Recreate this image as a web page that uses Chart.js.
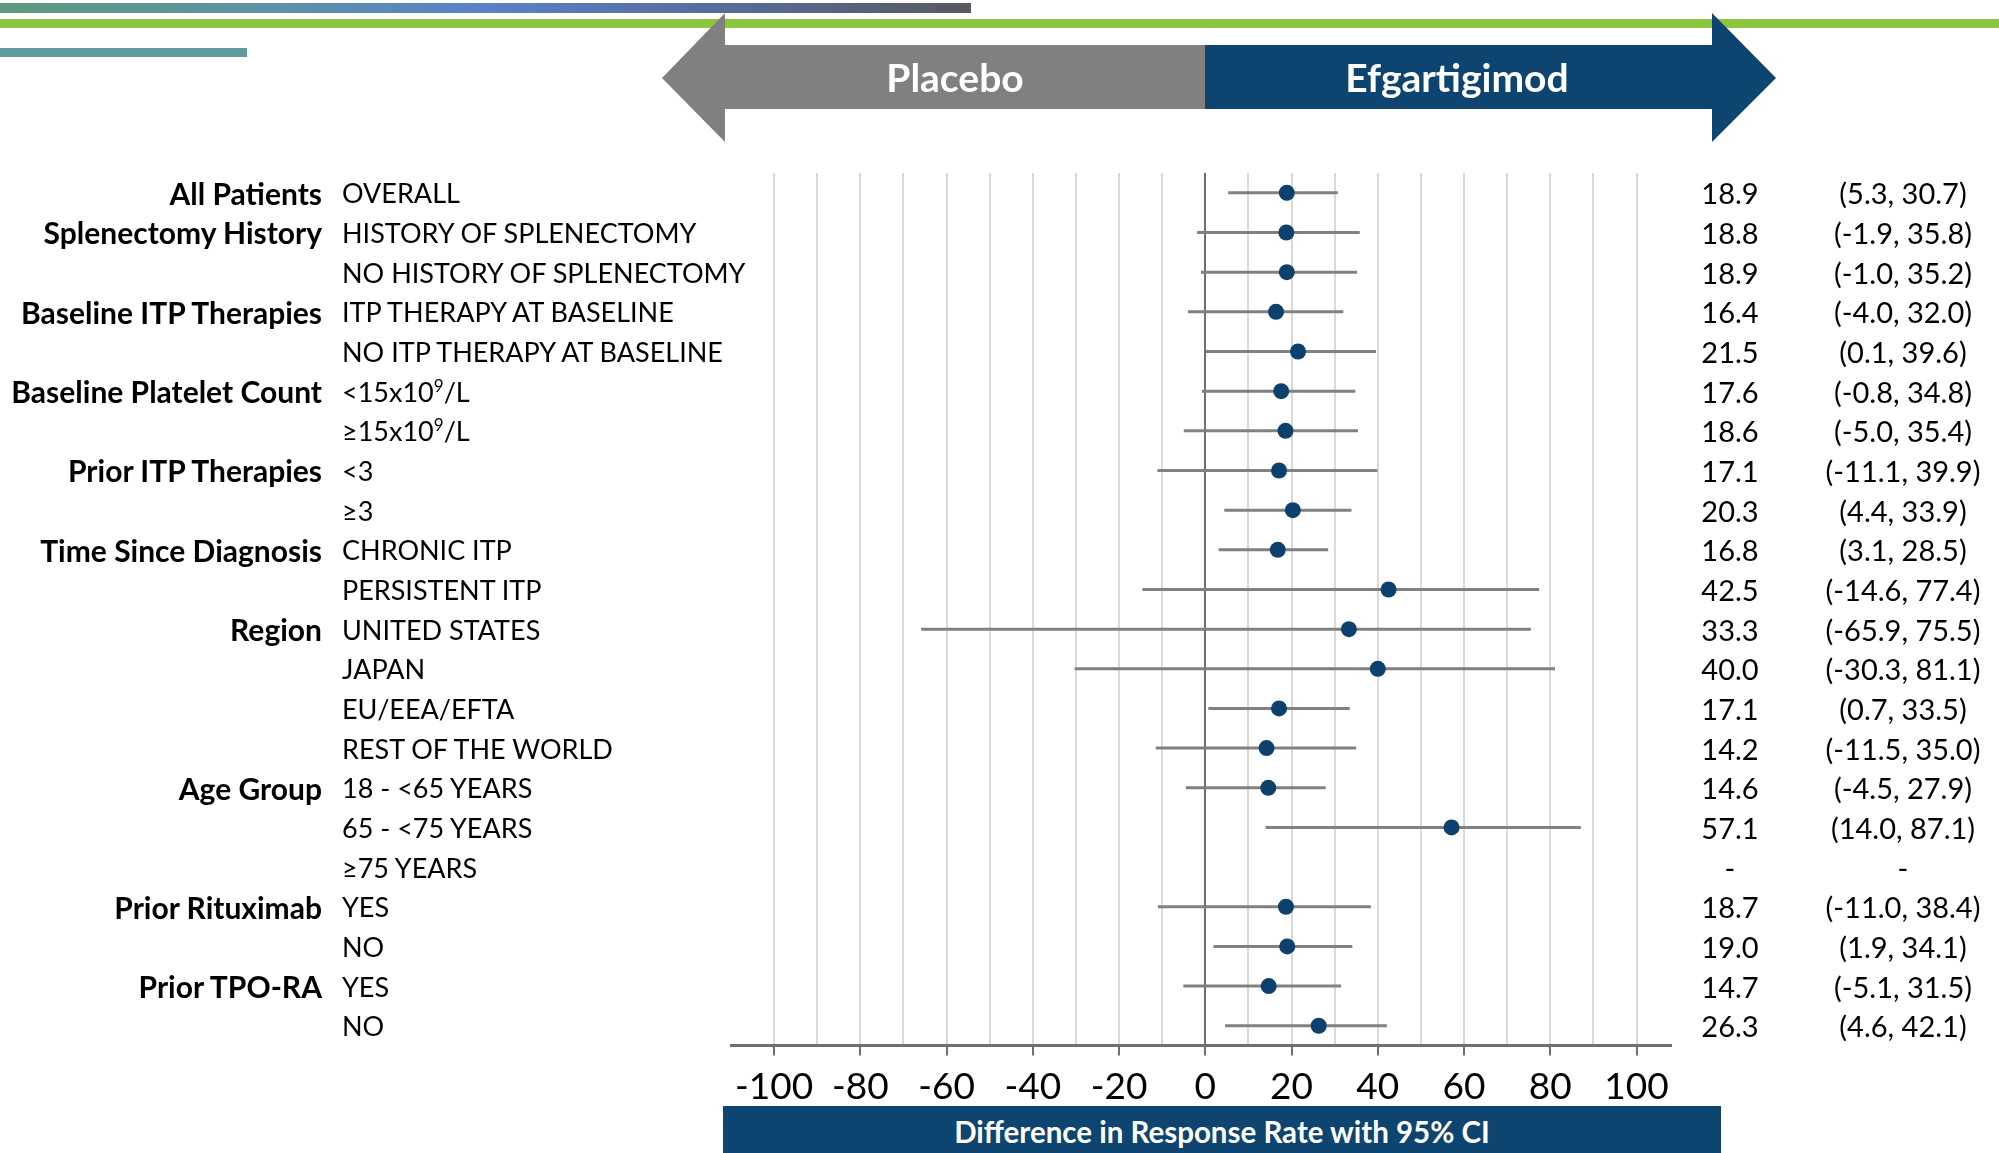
<!DOCTYPE html>
<html>
<head>
<meta charset="utf-8">
<title>Efgartigimod subgroup forest plot</title>
<script src="https://cdn.jsdelivr.net/npm/chart.js@4.4.1/dist/chart.umd.min.js"></script>
<style>
    html, body { margin: 0; padding: 0; background: #fff; }
    body {
        width: 1999px; height: 1153px; position: relative; overflow: hidden;
        font-family: Lato, "Open Sans", sans-serif; color: #000;
    }
    #c { position: absolute; left: 0; top: 0; }
    .deco { position: absolute; }
    .txt { position: absolute; white-space: nowrap; font-size: 27px; line-height: 27px; }
    .group { font-weight: bold; text-align: right; font-size: 30px; line-height: 30px; }
    .num { font-size: 29px; line-height: 29px; transform: translateX(-50%); }
    .txt sup { font-size: 17px; line-height: 0; vertical-align: 10px; }
    .head { position: absolute; color: #fff; font-weight: bold; font-size: 39px; line-height: 39px; transform: translateX(-50%); white-space: nowrap; }
    #xTitle {
        position: absolute; left: 723px; top: 1106px; width: 998px; height: 47px;
        background: #0e4470; color: #fff; font-weight: bold; font-size: 29.5px;
        display: flex; align-items: center; justify-content: center; padding-top: 3px; box-sizing: border-box;
    }
</style>
</head>
<body>
<!-- decorative bars at the top -->
<div class="deco" style="left:0;top:3px;width:971px;height:10px;background:linear-gradient(to right,#5f9a7e 0%,#5b90a8 30%,#5a80c8 50%,#566c98 75%,#58595f 100%);"></div>
<div class="deco" style="left:0;top:19px;width:1999px;height:9px;background:#8cc63f;"></div>
<div class="deco" style="left:0;top:48px;width:247px;height:9px;background:#5f9a9e;"></div>

<canvas id="c" width="1999" height="1153"></canvas>

<!-- direction arrows -->
<svg class="deco" style="left:0;top:0;" width="1999" height="160">
    <polygon points="725,13 662,78 725,142 725,109 1205,109 1205,45 725,45" fill="#808080"/>
    <polygon points="1205,45 1712,45 1712,13 1776,78 1712,142 1712,109 1205,109" fill="#0e4470"/>
</svg>
<div class="head" style="left:955px;top:58px;">Placebo</div>
<div class="head" style="left:1457px;top:58px;">Efgartigimod</div>

<div id="xTitle">Difference in Response Rate with 95% CI</div>
<div id="labels"></div>

<script>
// groups and subgroups, one entry per row (top to bottom)
const groupLabels = [
    'All Patients', 'Splenectomy History', '', 'Baseline ITP Therapies', '',
    'Baseline Platelet Count', '', 'Prior ITP Therapies', '', 'Time Since Diagnosis', '',
    'Region', '', '', '', 'Age Group', '', '', 'Prior Rituximab', '', 'Prior TPO-RA', ''
];
const subgroups = [
    'OVERALL', 'HISTORY OF SPLENECTOMY', 'NO HISTORY OF SPLENECTOMY',
    'ITP THERAPY AT BASELINE', 'NO ITP THERAPY AT BASELINE',
    '<15x10⁹/L', '≥15x10⁹/L', '<3', '≥3', 'CHRONIC ITP', 'PERSISTENT ITP',
    'UNITED STATES', 'JAPAN', 'EU/EEA/EFTA', 'REST OF THE WORLD',
    '18 - <65 YEARS', '65 - <75 YEARS', '≥75 YEARS', 'YES', 'NO', 'YES', 'NO'
];

// difference in response rate and 95% CI
const estimates = [18.9, 18.8, 18.9, 16.4, 21.5, 17.6, 18.6, 17.1, 20.3, 16.8, 42.5,
    33.3, 40.0, 17.1, 14.2, 14.6, 57.1, null, 18.7, 19.0, 14.7, 26.3];
const ciLow = [5.3, -1.9, -1.0, -4.0, 0.1, -0.8, -5.0, -11.1, 4.4, 3.1, -14.6,
    -65.9, -30.3, 0.7, -11.5, -4.5, 14.0, null, -11.0, 1.9, -5.1, 4.6];
const ciHigh = [30.7, 35.8, 35.2, 32.0, 39.6, 34.8, 35.4, 39.9, 33.9, 28.5, 77.4,
    75.5, 81.1, 33.5, 35.0, 27.9, 87.1, null, 38.4, 34.1, 31.5, 42.1];

// x axis
const xGrid = [-100, -90, -80, -70, -60, -50, -40, -30, -20, -10, 0,
    10, 20, 30, 40, 50, 60, 70, 80, 90, 100];
const xTickLabels = [-100, -80, -60, -40, -20, 0, 20, 40, 60, 80, 100];

// CI segments in one line dataset, broken by null points
const ciSegments = [];
estimates.forEach((v, i) => {
    if (v === null) return;
    ciSegments.push({ x: ciLow[i], y: i }, { x: ciHigh[i], y: i }, { x: null, y: null });
});
const pointData = [];
estimates.forEach((v, i) => {
    if (v !== null) pointData.push({ x: v, y: i });
});

const chart = new Chart(document.getElementById('c').getContext('2d'), {
    type: 'scatter',
    data: {
        datasets: [{
            data: pointData,
            order: 0,
            pointRadius: 8,
            pointBackgroundColor: '#0d416d',
            pointBorderWidth: 0
        }, {
            data: ciSegments,
            order: 1,
            showLine: true,
            spanGaps: false,
            pointRadius: 0,
            borderColor: '#808080',
            borderWidth: 3
        }]
    },
    options: {
        responsive: false,
        animation: false,
        layout: { padding: { left: 731, right: 328, top: 173, bottom: 35 } },
        plugins: {
            legend: { display: false },
            tooltip: { enabled: false }
        },
        scales: {
            x: {
                type: 'linear',
                min: -110,
                max: 108,
                afterBuildTicks: axis => {
                    axis.ticks = xGrid.map(v => ({ value: v }));
                },
                ticks: {
                    autoSkip: false,
                    maxRotation: 0,
                    padding: 9,
                    color: '#000',
                    font: { family: 'Lato', size: 37 },
                    callback: v => xTickLabels.includes(v) ? String(v) : ''
                },
                grid: {
                    color: c => (c.tick && c.tick.value === 0) ? '#6f6f6f' : '#d9d9d9',
                    lineWidth: 2,
                    tickLength: 10,
                    tickWidth: 2,
                    tickColor: c => (c.tick && xTickLabels.includes(c.tick.value)) ? '#6f6f6f' : 'rgba(0,0,0,0)'
                },
                border: { color: '#6f6f6f', width: 3 }
            },
            y: {
                type: 'linear',
                display: false,
                reverse: true,
                min: -0.5,
                max: 21.5
            }
        }
    }
});

// row texts, placed on the chart's own y scale
function escapeHtml(s) {
    return s.replace(/&/g, '&amp;').replace(/</g, '&lt;').replace(/>/g, '&gt;');
}

function addText(html, cls, style) {
    const el = document.createElement('div');
    el.className = 'txt ' + cls;
    el.innerHTML = html;
    Object.assign(el.style, style);
    document.getElementById('labels').appendChild(el);
}

const yScale = chart.scales.y;
subgroups.forEach((s, i) => {
    const y = yScale.getPixelForValue(i);
    if (groupLabels[i]) {
        addText(escapeHtml(groupLabels[i]), 'group', { right: (1999 - 322) + 'px', top: (y - 15) + 'px' });
    }
    addText(escapeHtml(s).replace('⁹', '<sup>9</sup>'), '', { left: '342px', top: (y - 13.5) + 'px' });

    const est = estimates[i] === null ? '-' : estimates[i].toFixed(1);
    const ci = ciLow[i] === null ? '-' : '(' + ciLow[i].toFixed(1) + ', ' + ciHigh[i].toFixed(1) + ')';
    addText(est, 'num', { left: '1730px', top: (y - 14.5) + 'px' });
    addText(ci, 'num', { left: '1903px', top: (y - 14.5) + 'px' });
});
</script>
</body>
</html>
